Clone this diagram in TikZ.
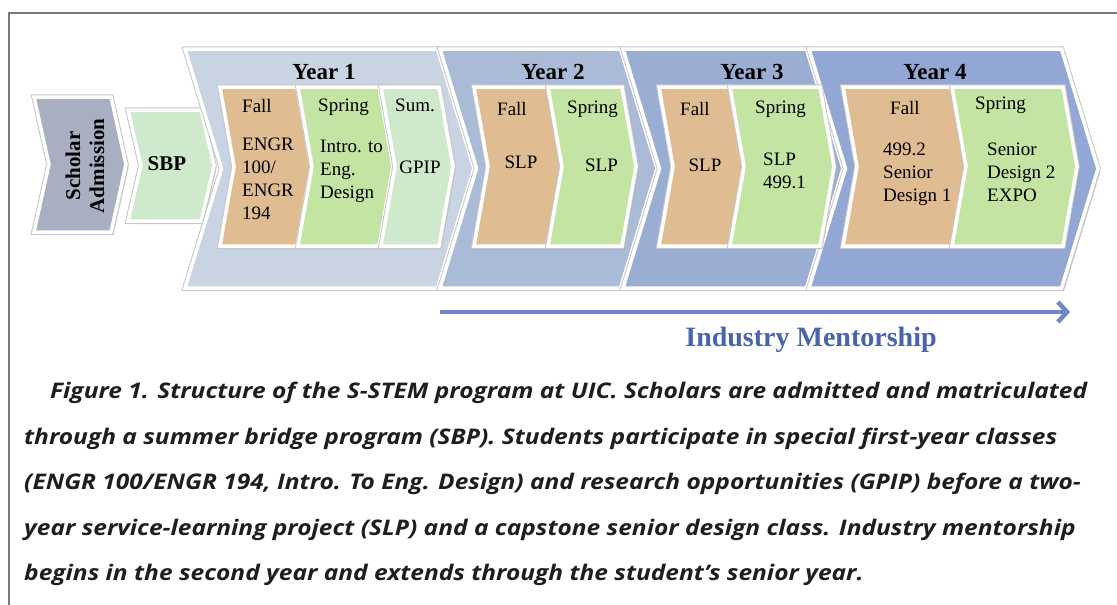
\documentclass[tikz,border=0pt]{standalone}
\usepackage{fontspec}
\setmainfont{Liberation Serif}
\newfontfamily\capfont[FakeStretch=1.14]{Open Sans}
\usetikzlibrary{shapes.symbols, shadows, arrows.meta}

\definecolor{admitgray}{HTML}{A7AFC0}
\definecolor{bridgegreen}{HTML}{CFE9CC}
\definecolor{fallorange}{HTML}{E0BC93}
\definecolor{springgreen}{HTML}{C4E4A4}
\definecolor{yearA}{HTML}{C9D4E3}
\definecolor{yearB}{HTML}{AABBD7}
\definecolor{yearC}{HTML}{9AADD3}
\definecolor{yearD}{HTML}{92A7D3}
\definecolor{mentorblue}{HTML}{6D88C6}
\definecolor{mentortext}{HTML}{4A64AC}
\definecolor{framegray}{HTML}{7A7A7A}
\definecolor{captiongray}{HTML}{1E1E1E}

\tikzset{
	chevron/.style={shape=signal, signal to=east, signal from=west, draw=white, line width=3.5pt, inner sep=0pt,
		drop shadow={shadow xshift=2.5pt, shadow yshift=-3pt, opacity=0.4},
		preaction={draw=black!22, line width=5.5pt}},
	yearbox/.style={chevron, signal pointer angle=146, minimum height=239pt},
	termbox/.style={chevron, signal pointer angle=160, minimum height=159pt},
	yeartitle/.style={inner sep=0pt, font=\fontsize{23}{27}\selectfont\bfseries},
	termtitle/.style={anchor=north west, inner sep=0pt, font=\fontsize{19}{23}\selectfont},
	termtext/.style={anchor=north west, inner sep=0pt, align=left, font=\fontsize{19}{23}\selectfont},
	termmid/.style={inner sep=0pt, font=\fontsize{19}{23}\selectfont},
	captiontext/.style={anchor=north west, inner sep=0pt, align=left, text=captiongray,
		font=\capfont\bfseries\itshape\fontsize{21.5}{45.5}\selectfont},
}

\begin{document}
\begin{tikzpicture}[x=1pt, y=-1pt]
	\useasboundingbox[fill=white] (0,0) rectangle (1117,605);
	\draw[framegray, line width=1.2pt] (9,605) -- (9,13) -- (1117,13);

	% Admission and bridge program
	\node[chevron, fill=admitgray, signal pointer angle=155, minimum width=92pt, minimum height=135pt] (admit) at (80, 164.5){};
	\node[rotate=90, align=center, inner sep=0pt, font=\fontsize{21}{24}\selectfont\bfseries] (admittext) at (85, 166){Scholar\\Admission};
	\node[chevron, fill=bridgegreen, signal pointer angle=154, minimum width=86pt, minimum height=111pt] (bridge) at (171, 165.5){};
	\node[inner sep=0pt, font=\fontsize{21}{24}\selectfont\bfseries] (bridgetext) at (167, 164){SBP};

	% Year backgrounds
	\node[yearbox, fill=yearA, minimum width=289pt] (yr1) at (329.5, 168.5){};
	\node[yearbox, fill=yearB, minimum width=217pt] (yr2) at (548.5, 168.5){};
	\node[yearbox, fill=yearC, minimum width=220pt] (yr3) at (733, 168.5){};
	\node[yearbox, fill=yearD, minimum width=289pt] (yr4) at (953.5, 168.5){};
	\node[yeartitle] (yr1title) at (324, 72){Year 1};
	\node[yeartitle] (yr2title) at (553, 72){Year 2};
	\node[yeartitle] (yr3title) at (752, 72){Year 3};
	\node[yeartitle] (yr4title) at (935, 72){Year 4};

	% Year 1 terms
	\node[termbox, fill=fallorange, minimum width=91pt] (yr1fall) at (265.5, 166.5){};
	\node[termbox, fill=springgreen, minimum width=95pt] (yr1spring) at (345.5, 166.5){};
	\node[termbox, fill=bridgegreen, minimum width=72pt] (yr1sum) at (417, 166.5){};
	\node[termtitle] (yr1falltitle) at (242, 99){Fall};
	\node[termtext] (yr1falltext) at (242, 138){ENGR\\100/\\ENGR\\194};
	\node[termtitle] (yr1springtitle) at (318, 99){Spring};
	\node[termtext] (yr1springtext) at (320, 140){Intro. to\\Eng.\\Design};
	\node[termtitle] (yr1sumtitle) at (395, 99){Sum.};
	\node[termmid] (yr1sumtext) at (420, 167){GPIP};

	% Year 2 terms
	\node[termbox, fill=fallorange, minimum width=88pt] (yr2fall) at (518, 166.5){};
	\node[termbox, fill=springgreen, minimum width=88pt] (yr2spring) at (592, 166.5){};
	\node[termtitle] (yr2falltitle) at (497, 102){Fall};
	\node[termmid] (yr2falltext) at (521, 162.5){SLP};
	\node[termtitle] (yr2springtitle) at (567, 101){Spring};
	\node[termmid] (yr2springtext) at (601.5, 165){SLP};

	% Year 3 terms
	\node[termbox, fill=fallorange, minimum width=85pt] (yr3fall) at (701.5, 166.5){};
	\node[termbox, fill=springgreen, minimum width=104pt] (yr3spring) at (782, 166.5){};
	\node[termtitle] (yr3falltitle) at (680, 102){Fall};
	\node[termmid] (yr3falltext) at (705, 165){SLP};
	\node[termtitle] (yr3springtitle) at (755, 101){Spring};
	\node[termtext] (yr3springtext) at (763, 153){SLP\\499.1};

	% Year 4 terms
	\node[termbox, fill=fallorange, minimum width=124pt] (yr4fall) at (905, 166.5){};
	\node[termbox, fill=springgreen, minimum width=125pt] (yr4spring) at (1014.5, 166.5){};
	\node[termtitle] (yr4falltitle) at (890, 101){Fall};
	\node[termtext] (yr4falltext) at (883, 143){499.2\\Senior\\Design 1};
	\node[termtitle] (yr4springtitle) at (975, 97){Spring};
	\node[termtext] (yr4springtext) at (987, 143){Senior\\Design 2\\EXPO};

	% Mentorship arrow
	\coordinate (mentorstart) at (440, 312);
	\coordinate (mentorend) at (1070, 312);
	\draw[mentorblue, line width=4.5pt, -{Straight Barb[length=9pt, width=20pt]}] (mentorstart) -- (mentorend);
	\node[inner sep=0pt, text=mentortext, font=\fontsize{28}{32}\selectfont\bfseries] (mentor) at (811, 340){Industry Mentorship};

	% Caption
	\node[captiontext] (caption) at (24, 382){\hspace*{26pt}Figure 1. Structure of the S-STEM program at UIC. Scholars are admitted and matriculated\\
		through a summer bridge program (SBP). Students participate in special first-year classes\\
		(ENGR 100/ENGR 194, Intro. To Eng. Design) and research opportunities (GPIP) before a two-\\
		year service-learning project (SLP) and a capstone senior design class. Industry mentorship\\
		begins in the second year and extends through the student’s senior year.};
\end{tikzpicture}
\end{document}
